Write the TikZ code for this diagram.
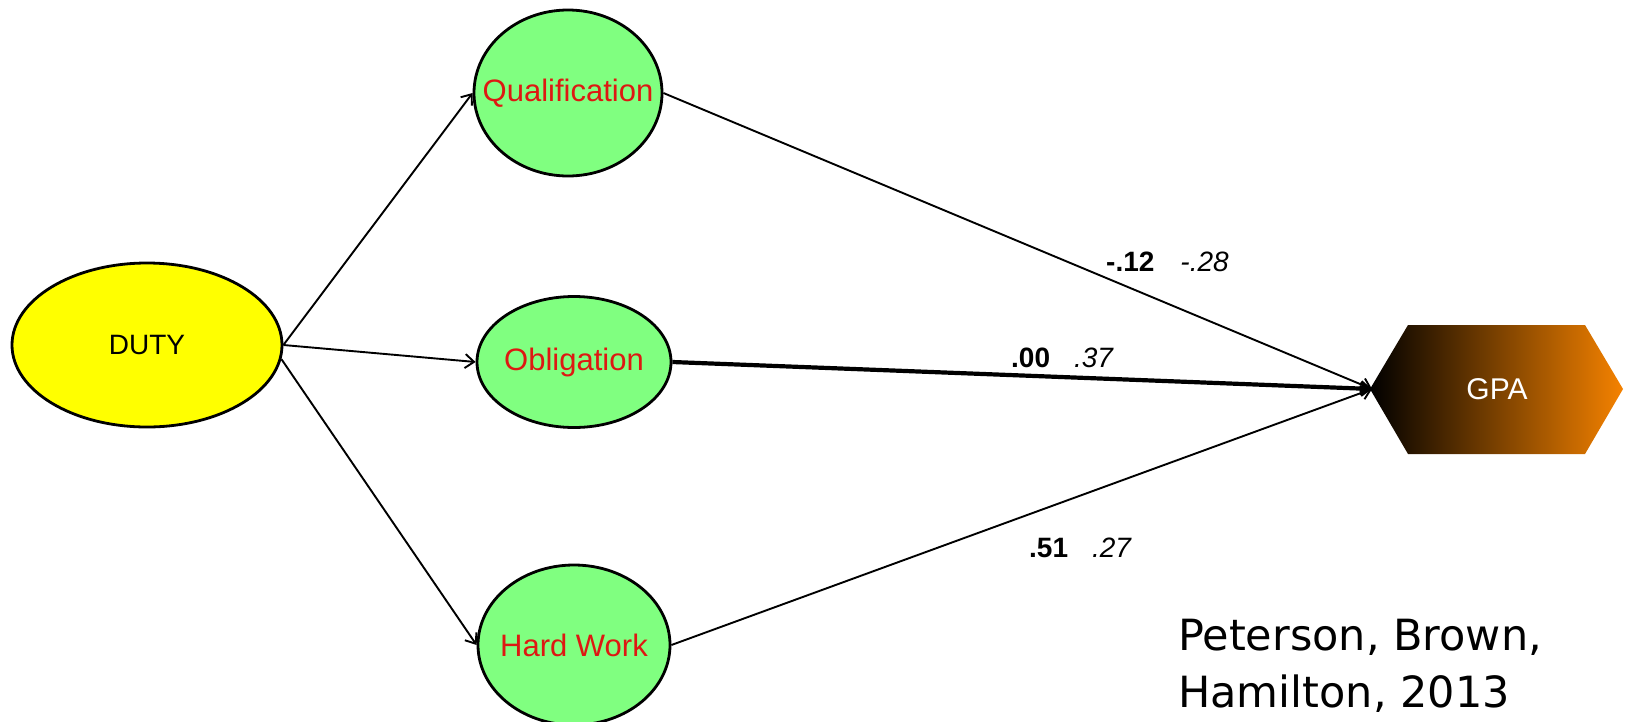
\documentclass[tikz,border=0pt]{standalone}
\usepackage{fontspec}
\setmainfont{Liberation Sans}
\newfontfamily\citefont{DejaVu Sans}
\usetikzlibrary{shapes.geometric,arrows.meta}
\definecolor{latentgreen}{RGB}{128,255,128}
\definecolor{dutyyellow}{RGB}{255,255,0}
\definecolor{labelred}{RGB}{222,24,18}
\definecolor{gpaorange}{RGB}{245,130,0}
\tikzset{
  latent/.style={ellipse, draw=black, line width=2.8pt, fill=latentgreen, inner sep=0pt},
  latentname/.style={text=labelred, font=\fontsize{31}{36}\selectfont, inner sep=0pt},
  path/.style={line width=1.9pt, -{Straight Barb[length=9pt,width=14pt]}},
  thickpath/.style={line width=4.2pt, -{Straight Barb[length=8pt,width=13pt]}},
  coef/.style={font=\fontsize{28}{32}\selectfont, inner sep=0pt}
}
\begin{document}
\begin{tikzpicture}[x=1pt,y=-1pt]
\useasboundingbox (0,0) rectangle (1625,721);

% exogenous factor
\node[ellipse, draw=black, line width=2.8pt, fill=dutyyellow, inner sep=0pt,
      minimum width=270pt, minimum height=164pt] (duty) at (147,345) {};
\node[font=\fontsize{28}{32}\selectfont, inner sep=0pt] (dutyname) at (duty.center) {DUTY};

% mediators
\node[latent, minimum width=188pt, minimum height=166pt] (qual) at (568,93) {};
\node[latentname] (qualname) at (qual.center) {Qualification};
\node[latent, minimum width=194pt, minimum height=131pt] (obl) at (574,362) {};
\node[latentname] (oblname) at (obl.center) {Obligation};
\node[latent, minimum width=192pt, minimum height=160pt] (hw) at (574,645) {};
\node[latentname] (hwname) at (hw.center) {Hard Work};

% outcome: shaded hexagon
\shade[left color=black, right color=gpaorange]
  (1370,389) -- (1408,325) -- (1585,325) -- (1623,389) -- (1585,454) -- (1408,454) -- cycle;
\node[text=white, font=\fontsize{30}{34}\selectfont] (gpa) at (1497,389) {GPA};
\coordinate (gpain) at (1372,389);

% paths
\draw[path] (duty.east) -- (qual.west);
\draw[path] (duty.east) -- (obl.west);
\draw[path] (duty.-6) -- (hw.west);
\draw[path] (qual.east) -- (gpain);
\draw[thickpath] (obl.east) -- (gpain);
\draw[path] (hw.east) -- (gpain);

% coefficients
\node[coef, anchor=west] (c1) at (1106,262) {\textbf{-.12}\hspace{26pt}\textit{-.28}};
\node[coef, anchor=west] (c2) at (1011,358) {\textbf{.00}\hspace{24pt}\textit{.37}};
\node[coef, anchor=west] (c3) at (1029,548) {\textbf{.51}\hspace{24pt}\textit{.27}};

% citation
\node[anchor=base west, inner sep=0pt, font=\citefont\fontsize{43}{57}\selectfont,
      align=left] (cite) at (1178,707) {Peterson, Brown,\\Hamilton, 2013};
\end{tikzpicture}
\end{document}
